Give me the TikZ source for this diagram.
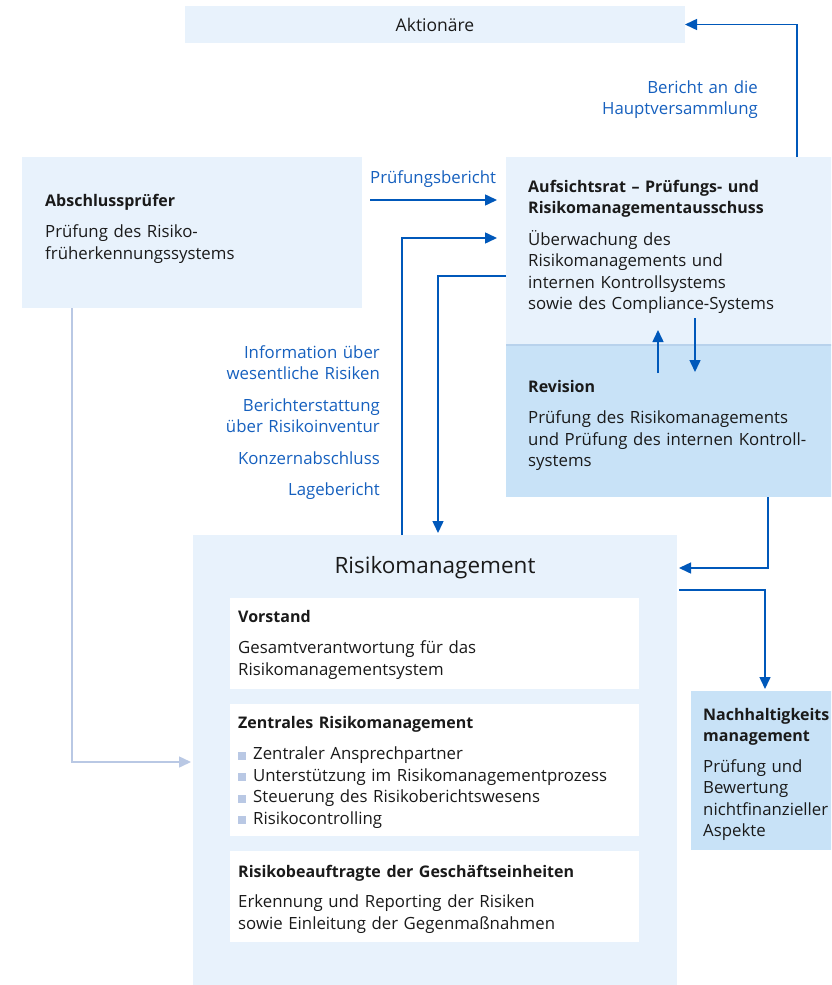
\documentclass[tikz,border=0pt]{standalone}
\usepackage{fontspec}
\setmainfont{Open Sans}
\usetikzlibrary{arrows.meta, positioning}
\definecolor{boxlight}{RGB}{232,242,252}
\definecolor{boxdark}{RGB}{200,226,247}
\definecolor{divline}{RGB}{184,210,236}
\definecolor{arrblue}{RGB}{0,88,186}
\definecolor{labelblue}{RGB}{22,96,190}
\definecolor{softgray}{RGB}{185,200,228}
\definecolor{textdark}{RGB}{26,26,26}
\newcommand{\sqbullet}{\textcolor{softgray}{\rule{8pt}{8pt}}\hspace{7pt}}
\newcommand{\bodysize}{\fontsize{16.8}{21.5}\selectfont}
\newcommand{\hd}[1]{{\fontsize{16}{21.5}\selectfont\bfseries #1}}

\tikzset{
  box/.style={anchor=north west, inner sep=0, outer sep=0, fill=boxlight},
  darkbox/.style={box, fill=boxdark},
  whitebox/.style={box, fill=white},
  txt/.style={anchor=base west, inner sep=0, align=left, text=textdark, font=\bodysize},
  lbl/.style={inner sep=0, text=labelblue, font=\bodysize},
  arr/.style={draw=arrblue, line width=1.5pt, -{Triangle[length=12pt,width=11pt]}},
  grayarr/.style={arr, draw=softgray},
}

\begin{document}
\begin{tikzpicture}[x=1pt,y=-1pt]
  \useasboundingbox (0,0) rectangle (831,985);
  \clip (0,0) rectangle (831,985);

  % boxes
  \node[box, minimum width=500pt, minimum height=37pt] (aktion) at (185,6) {};
  \node[box, minimum width=340pt, minimum height=151pt] (abschluss) at (22,157) {};
  \node[box, minimum width=330pt, minimum height=188pt] (aufsicht) at (506,157) {};
  \node[darkbox, minimum width=330pt, minimum height=152pt] (revision) at (506,345) {};
  \draw[divline, line width=1.5pt] (revision.north west) -- (revision.north east);
  \node[box, minimum width=484pt, minimum height=460pt] (risiko) at (193,535) {};
  \node[whitebox, minimum width=409pt, minimum height=91pt] (vorstand) at (230,598) {};
  \node[whitebox, minimum width=409pt, minimum height=132pt] (zentral) at (230,704) {};
  \node[whitebox, minimum width=409pt, minimum height=91pt] (beauftragte) at (230,851) {};
  \node[darkbox, minimum width=150pt, minimum height=159pt] (nachhaltig) at (691,691) {};

  % texts
  \node[txt, anchor=center, font=\fontsize{17.5}{21}\selectfont] (aktiontxt) at (aktion.center) {Aktionäre};
  \node[txt, text width=300pt] (abschlusstxt) at (45,206)
    {\hd{Abschlussprüfer}\\[10pt]
     Prüfung des Risiko-\\ früherkennungssystems};
  \node[txt, text width=300pt] (aufsichttxt) at (528,192)
    {\hd{Aufsichtsrat – Prüfungs- und}\\ \hd{Risikomanagementausschuss}\\[10pt]
     Überwachung des\\ Risikomanagements und\\ internen Kontrollsystems\\ sowie des Compliance-Systems};
  \node[txt, text width=300pt] (revisiontxt) at (528,392)
    {\hd{Revision}\\[10pt]
     Prüfung des Risikomanagements\\ und Prüfung des internen Kontroll-\\ systems};
  \node[txt, anchor=center, font=\fontsize{22.5}{26}\selectfont] (risikotxt) at (435,568) {Risikomanagement};
  \node[txt, text width=390pt] (vorstandtxt) at (238,622)
    {\hd{Vorstand}\\[10pt]
     Gesamtverantwortung für das\\ Risikomanagementsystem};
  \node[txt, text width=390pt] (zentraltxt) at (238,728)
    {\hd{Zentrales Risikomanagement}\\[10pt]
     \sqbullet Zentraler Ansprechpartner\\
     \sqbullet Unterstützung im Risikomanagementprozess\\
     \sqbullet Steuerung des Risikoberichtswesens\\
     \sqbullet Risikocontrolling};
  \node[txt, text width=390pt] (beauftragtetxt) at (238,877)
    {\hd{Risikobeauftragte der Geschäftseinheiten}\\[9pt]
     Erkennung und Reporting der Risiken\\ sowie Einleitung der Gegenmaßnahmen};
  \node[txt, text width=200pt] (nachhaltigtxt) at (703,720)
    {\hd{Nachhaltigkeits}\\ \hd{management}\\[9pt]
     Prüfung und\\ Bewertung\\ nichtfinanzieller\\ Aspekte};

  % labels
  \node[lbl, anchor=base east, text width=200pt, align=right] (hvlbl) at (758,93)
    {Bericht an die\\ Hauptversammlung};
  \node[lbl, anchor=base west] (pblbl) at (370,183) {Prüfungsbericht};
  \node[lbl, anchor=base east, text width=200pt, align=right] (infolbl) at (380,358)
    {Information über\\ wesentliche Risiken\\[10pt]
     Berichterstattung\\ über Risikoinventur\\[10pt]
     Konzernabschluss\\[10pt]
     Lagebericht};

  % connectors
  \draw[arr] ([xshift=291pt]aufsicht.north west) |- (aktion.east);
  \draw[arr, shorten <=8pt, shorten >=9pt] ([yshift=32.5pt]abschluss.east) -- ([yshift=32.5pt]abschluss.east -| aufsicht.west);
  \draw[arr, shorten >=9pt] ([xshift=209pt]risiko.north west) |- ([yshift=-81pt]aufsicht.north west);
  \draw[arr, shorten >=2pt] ([yshift=-119pt]aufsicht.north west) -| ([xshift=245pt]risiko.north west);
  \draw[arr] ([shift={(152pt,-28pt)}]revision.north west) -- ++(0,-43);
  \draw[arr] ([shift={(189pt,27pt)}]revision.north west) -- ++(0,54);
  \draw[arr, shorten >=2pt] ([xshift=262pt]revision.south west) |- ([yshift=-33pt]risiko.north east);
  \draw[arr, shorten <=2pt, shorten >=2pt] ([yshift=-55pt]risiko.north east) -| ([xshift=74pt]nachhaltig.north west);
  \draw[grayarr, shorten >=2pt] ([xshift=50pt]abschluss.south west) |- ([yshift=-227pt]risiko.north west);
\end{tikzpicture}
\end{document}
